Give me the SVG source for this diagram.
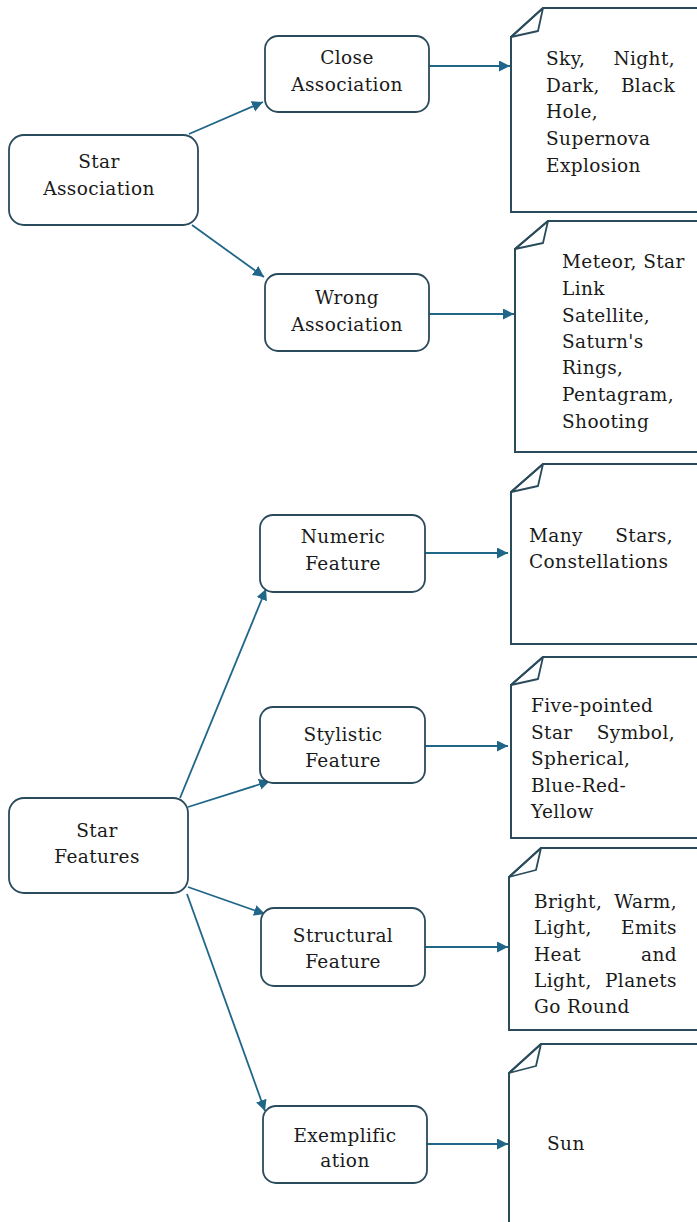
<svg xmlns="http://www.w3.org/2000/svg" width="697" height="1222" viewBox="0 0 697 1222">
<style>
.box{fill:#fff;stroke:#2a4b5c;stroke-width:1.8}
.note{fill:#fff;stroke:#2a4b5c;stroke-width:2}
.fold{fill:none;stroke:#2a4b5c;stroke-width:1.8;stroke-linejoin:round}
.t{font-family:"DejaVu Serif",serif;font-size:18.5px;fill:#1a1a1a;letter-spacing:0.4px}
.c{text-anchor:middle}
.e{text-anchor:end}
.con{fill:none;stroke:#1f6688;stroke-width:1.8}
</style>
<defs>
<marker id="ah" markerWidth="12" markerHeight="12" refX="11" refY="5.5" orient="auto" markerUnits="userSpaceOnUse">
<path d="M0,0 L11,5.5 L0,11 Z" fill="#1f6688"/>
</marker>
</defs>
<rect width="697" height="1222" fill="#fff"/>

<g id="connectors">
<line class="con" x1="189" y1="134" x2="263" y2="102" marker-end="url(#ah)"/>
<line class="con" x1="192" y1="225" x2="264" y2="277" marker-end="url(#ah)"/>
<line class="con" x1="429" y1="66" x2="510" y2="66" marker-end="url(#ah)"/>
<line class="con" x1="429" y1="314" x2="514" y2="314" marker-end="url(#ah)"/>
<line class="con" x1="180" y1="798" x2="266" y2="589" marker-end="url(#ah)"/>
<line class="con" x1="188" y1="807" x2="270" y2="781" marker-end="url(#ah)"/>
<line class="con" x1="188" y1="887" x2="265" y2="914" marker-end="url(#ah)"/>
<line class="con" x1="187" y1="894" x2="265" y2="1111" marker-end="url(#ah)"/>
<line class="con" x1="425" y1="553" x2="508" y2="553" marker-end="url(#ah)"/>
<line class="con" x1="425" y1="746" x2="508" y2="746" marker-end="url(#ah)"/>
<line class="con" x1="425" y1="947" x2="508" y2="947" marker-end="url(#ah)"/>
<line class="con" x1="427" y1="1144" x2="508" y2="1144" marker-end="url(#ah)"/>
</g>

<g id="star-association">
<rect class="box" x="9" y="135" width="189" height="90" rx="15"/>
<text class="t c" x="99" y="168">Star</text>
<text class="t c" x="99" y="195">Association</text>
</g>

<g id="close-association">
<rect class="box" x="265" y="36" width="164" height="76" rx="13"/>
<text class="t c" x="347" y="64">Close</text>
<text class="t c" x="347" y="91">Association</text>
</g>

<g id="wrong-association">
<rect class="box" x="265" y="274" width="164" height="77" rx="13"/>
<text class="t c" x="347" y="304">Wrong</text>
<text class="t c" x="347" y="331">Association</text>
</g>

<g id="note-close">
<path class="note" d="M511,37 L543,8 L705,8 L705,212 L511,212 Z"/>
<path class="fold" d="M511,37 L543,8 L538,31 Z"/>
<text class="t" x="546" y="65">Sky,</text>
<text class="t e" x="675" y="65">Night,</text>
<text class="t" x="546" y="92">Dark,</text>
<text class="t e" x="675" y="92">Black</text>
<text class="t" x="546" y="118">Hole,</text>
<text class="t" x="546" y="145">Supernova</text>
<text class="t" x="546" y="172">Explosion</text>
</g>

<g id="note-wrong">
<path class="note" d="M515,249 L548,221 L705,221 L705,452 L515,452 Z"/>
<path class="fold" d="M515,249 L548,221 L543,243 Z"/>
<text class="t" x="562" y="268">Meteor, Star</text>
<text class="t" x="562" y="295">Link</text>
<text class="t" x="562" y="322">Satellite,</text>
<text class="t" x="562" y="348">Saturn's</text>
<text class="t" x="562" y="374">Rings,</text>
<text class="t" x="562" y="401">Pentagram,</text>
<text class="t" x="562" y="428">Shooting</text>
</g>

<g id="star-features">
<rect class="box" x="9" y="798" width="179" height="95" rx="15"/>
<text class="t c" x="97" y="837">Star</text>
<text class="t c" x="97" y="863">Features</text>
</g>

<g id="numeric-feature">
<rect class="box" x="260" y="515" width="165" height="77" rx="13"/>
<text class="t c" x="343" y="543">Numeric</text>
<text class="t c" x="343" y="570">Feature</text>
</g>

<g id="stylistic-feature">
<rect class="box" x="260" y="707" width="165" height="76" rx="13"/>
<text class="t c" x="343" y="741">Stylistic</text>
<text class="t c" x="343" y="767">Feature</text>
</g>

<g id="structural-feature">
<rect class="box" x="261" y="908" width="164" height="78" rx="13"/>
<text class="t c" x="343" y="942">Structural</text>
<text class="t c" x="343" y="968">Feature</text>
</g>

<g id="exemplification">
<rect class="box" x="263" y="1106" width="164" height="77" rx="13"/>
<text class="t c" x="345" y="1142">Exemplific</text>
<text class="t c" x="345" y="1167">ation</text>
</g>

<g id="note-numeric">
<path class="note" d="M511,492 L543,464 L705,464 L705,644 L511,644 Z"/>
<path class="fold" d="M511,492 L543,464 L538,486 Z"/>
<text class="t" x="529" y="542">Many</text>
<text class="t e" x="673" y="542">Stars,</text>
<text class="t" x="529" y="568">Constellations</text>
</g>

<g id="note-stylistic">
<path class="note" d="M511,685 L543,657 L705,657 L705,838 L511,838 Z"/>
<path class="fold" d="M511,685 L543,657 L538,679 Z"/>
<text class="t" x="531" y="712">Five-pointed</text>
<text class="t" x="531" y="739">Star</text>
<text class="t e" x="675" y="739">Symbol,</text>
<text class="t" x="531" y="765">Spherical,</text>
<text class="t" x="531" y="792">Blue-Red-</text>
<text class="t" x="531" y="818">Yellow</text>
</g>

<g id="note-structural">
<path class="note" d="M509,877 L541,848 L705,848 L705,1030 L509,1030 Z"/>
<path class="fold" d="M509,877 L541,848 L536,870 Z"/>
<text class="t" x="534" y="908">Bright,</text>
<text class="t e" x="677" y="908">Warm,</text>
<text class="t" x="534" y="934">Light,</text>
<text class="t e" x="677" y="934">Emits</text>
<text class="t" x="534" y="961">Heat</text>
<text class="t e" x="677" y="961">and</text>
<text class="t" x="534" y="987">Light,</text>
<text class="t e" x="677" y="987">Planets</text>
<text class="t" x="534" y="1013">Go Round</text>
</g>

<g id="note-exemplification">
<path class="note" d="M509,1073 L541,1044 L705,1044 L705,1230 L509,1230 Z"/>
<path class="fold" d="M509,1073 L541,1044 L536,1066 Z"/>
<text class="t" x="547" y="1150">Sun</text>
</g>
</svg>
